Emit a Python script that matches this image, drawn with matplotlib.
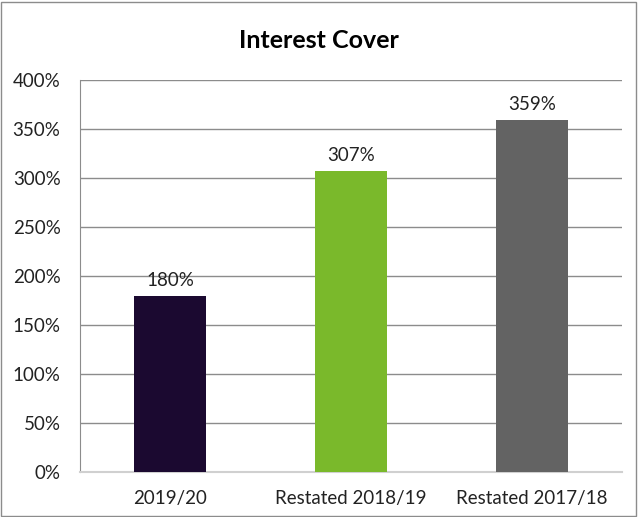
import matplotlib.pyplot as plt
from matplotlib.patches import Rectangle
from matplotlib.ticker import FuncFormatter

plt.rcParams['font.family'] = ['Lato', 'DejaVu Sans']

categories = ['2019/20', 'Restated 2018/19', 'Restated 2017/18']
values = [180, 307, 359]
colors = ['#1b0930', '#7ab92b', '#636363']
yticks = [0, 50, 100, 150, 200, 250, 300, 350, 400]

fig = plt.figure(figsize=(6.38, 5.17), dpi=100)
ax = fig.add_axes([0.1254, 0.087, 0.8496, 0.758])

x = range(len(categories))
bars = ax.bar(x, values, width=0.4, color=colors, zorder=3)
# value labels above bars
for b, v in zip(bars, values):
    ax.text(b.get_x() + b.get_width() / 2, v + 7, f"{v}%", ha='center', va='bottom',
            fontsize=13.5, color='#222222', zorder=4)

ax.set_xlim(-0.5, 2.5)
ax.set_ylim(0, 400)
ax.set_yticks(yticks)
ax.yaxis.set_major_formatter(FuncFormatter(lambda v, p: f"{int(v)}%"))
ax.set_xticks(list(x))
ax.set_xticklabels(categories)
ax.tick_params(axis='both', length=0, labelsize=13.5, colors='#222222')
ax.tick_params(axis='y', pad=14)
ax.tick_params(axis='x', pad=13)
ax.grid(axis='y', color='#8c8c8c', linewidth=1, zorder=0)
for s in ['top', 'right']:
    ax.spines[s].set_visible(False)
ax.spines['left'].set_color('#8c8c8c')
ax.spines['bottom'].set_color('#d0d0d0')
ax.spines['bottom'].set_linewidth(1.5)

fig.text(0.5, 0.922, 'Interest Cover', ha='center', va='center', fontsize=18,
         fontweight='bold', color='black')

# outer chart border
fig.patches.append(Rectangle((0.002, 0.002), 0.995, 0.995, transform=fig.transFigure,
                             fill=False, edgecolor='#8c8c8c', linewidth=1))

fig.savefig('out.png', dpi=100)
